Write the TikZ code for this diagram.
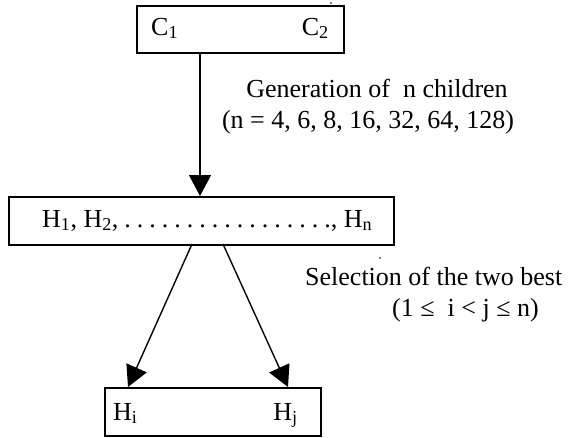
\documentclass[tikz,border=0pt]{standalone}
\usepackage{fontspec}
\setmainfont{Liberation Serif}
\usetikzlibrary{arrows.meta}
\newcommand{\dt}{.\hspace{6pt}}
\begin{document}
\begin{tikzpicture}[x=1pt,y=-1pt,
  box/.style={draw,line width=1.5pt,inner sep=0pt,anchor=north west},
  lbl/.style={inner sep=0pt,font=\fontsize{26}{31}\selectfont},
  arr/.style={line width=1.4pt,-{Triangle[length=21pt,width=22pt]}},
  speck/.style={fill,inner sep=0pt,minimum size=1.6pt,circle}]
\useasboundingbox (0,0) rectangle (568,437);
% boxes
\node[box,minimum width=207pt,minimum height=47pt] (c) at (136,5) {};
\node[box,minimum width=385pt,minimum height=48pt] (h) at (8,196) {};
\node[box,minimum width=216pt,minimum height=48pt] (s) at (104,387) {};
% texts in boxes
\node[lbl,anchor=base west] (c1) at (151,35) {C\textsubscript{1}};
\node[lbl,anchor=base east] (c2) at (329,35) {C\textsubscript{2}};
\node[lbl,anchor=base west] (hl) at (42,227) {H\textsubscript{1}, H\textsubscript{2},\hspace{6pt}\dt\dt\dt\dt\dt\dt\dt\dt\dt\dt\dt\dt\dt\dt\dt\dt., H\textsubscript{n}};
\node[lbl,anchor=base west] (hi) at (113,420) {H\textsubscript{i}};
\node[lbl,anchor=base east] (hj) at (298,420) {H\textsubscript{j}};
% labels
\node[lbl,anchor=base] (g1) at (377,97) {Generation of\ \ n children};
\node[lbl,anchor=base] (g2) at (368,128) {(n = 4, 6, 8, 16, 32, 64, 128)};
\node[lbl,anchor=base west] (s1) at (305,285) {Selection of the two best};
\node[lbl,anchor=base west] (s2) at (392,316) {(1 ≤\ \ i < j ≤ n)};
% specks
\node[speck] (d1) at (331,3) {};
\node[speck] (d2) at (380,258) {};
% connectors
\coordinate (ct) at (200,52);
\coordinate (ht) at (200,196);
\draw[arr] (ct) -- (ht);
\coordinate (hb1) at (192,244);
\coordinate (hb2) at (223,244);
\coordinate (st1) at (128,387);
\coordinate (st2) at (288,387);
\draw[arr] (hb1) -- (st1);
\draw[arr] (hb2) -- (st2);
\end{tikzpicture}
\end{document}
